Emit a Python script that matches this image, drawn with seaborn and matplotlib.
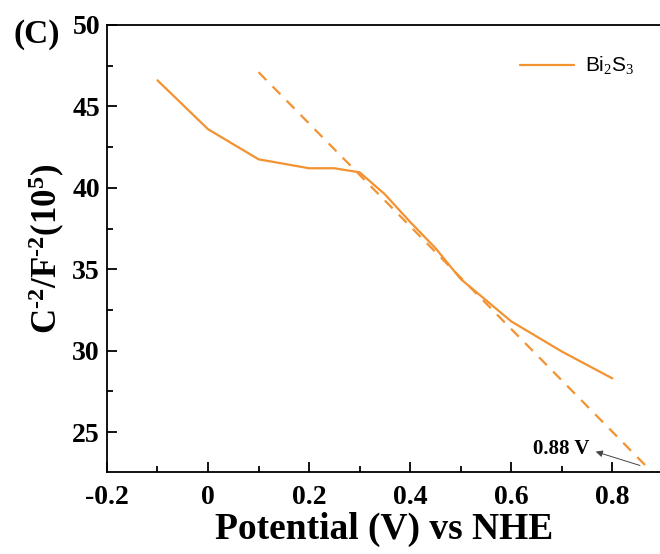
import numpy as np
import pandas as pd
import seaborn as sns
import matplotlib.pyplot as plt
from matplotlib.ticker import MultipleLocator, FuncFormatter

# Mott-Schottky data, Bi2S3
potential = [-0.1, 0.0, 0.1, 0.2, 0.25, 0.3, 0.35, 0.4, 0.45, 0.5, 0.55, 0.6, 0.7, 0.8]
inv_c2 = [46.6, 43.6, 41.75, 41.2, 41.2, 40.95, 39.6, 37.9, 36.3, 34.4, 33.1, 31.8, 29.95, 28.3]

# linear fit (tangent) end points
fit_x = [0.1, 0.88]
fit_y = [47.1, 22.5]

orange = '#F39231'

sns.set_style('ticks', {'axes.edgecolor': 'black', 'text.color': 'black',
                        'axes.labelcolor': 'black', 'xtick.color': 'black',
                        'ytick.color': 'black'})
plt.rcParams['font.family'] = ['Liberation Serif', 'DejaVu Serif']
plt.rcParams['mathtext.fontset'] = 'custom'
plt.rcParams['mathtext.rm'] = 'Liberation Serif'
plt.rcParams['mathtext.bf'] = 'Liberation Serif:bold'

fig = plt.figure(figsize=(6.6, 5.54), dpi=100)
ax = fig.add_axes([0.162, 0.148, 0.84, 0.807])

df = pd.DataFrame({'x': potential, 'y': inv_c2})
sns.lineplot(data=df, x='x', y='y', ax=ax, color=orange, lw=1.6,
             label='Bi$_2$S$_3$', sort=False)
ax.plot(fit_x, fit_y, color=orange, lw=1.6, ls=(0, (5, 4)))

ax.annotate('0.88 V', xy=(0.763, 23.8), xytext=(0.755, 23.95),
            ha='right', va='center', fontsize=15, fontweight='bold')
ax.annotate('', xy=(0.762, 23.85), xytext=(0.86, 22.9),
            arrowprops=dict(arrowstyle='-|>', color='#444444', lw=0.7,
                            mutation_scale=10))

ax.set_xlim(-0.2, 0.897)
ax.set_ylim(22.55, 50)
ax.xaxis.set_major_locator(MultipleLocator(0.2))
ax.xaxis.set_minor_locator(MultipleLocator(0.1))
ax.yaxis.set_major_locator(MultipleLocator(5))
ax.yaxis.set_minor_locator(MultipleLocator(2.5))
ax.xaxis.set_major_formatter(FuncFormatter(lambda v, p: '0' if abs(v) < 1e-9 else f'{v:.1f}'))
ax.yaxis.set_major_formatter(FuncFormatter(lambda v, p: f'{v:.0f}'))

ax.tick_params(which='both', direction='in', width=1.3, labelsize=20, colors='black')
ax.tick_params(which='major', length=7)
ax.tick_params(axis='x', which='major', pad=9)
ax.tick_params(axis='y', which='major', pad=5)
ax.tick_params(which='minor', length=4)
for lab in ax.get_xticklabels() + ax.get_yticklabels():
    lab.set_fontweight('bold')

for s in ['left', 'bottom', 'top']:
    ax.spines[s].set_linewidth(1.3)
    ax.spines[s].set_color('black')
    ax.spines[s].set_visible(True)
ax.spines['right'].set_visible(False)

ax.set_xlabel('Potential (V) vs NHE', fontsize=27, fontweight='bold', labelpad=2)
ax.set_ylabel('$\\mathbf{C^{\u20102}/F^{\u20102}(10^{5})}$', fontsize=25, labelpad=4)

fig.text(0.02, 0.922, '(C)', fontsize=24, fontweight='bold')

leg = ax.legend(loc='upper right', bbox_to_anchor=(0.985, 0.975), frameon=False,
                handlelength=2.6, handletextpad=0.5,
                prop={'family': 'Liberation Sans', 'size': 15})

fig.savefig('out.png', dpi=100)
